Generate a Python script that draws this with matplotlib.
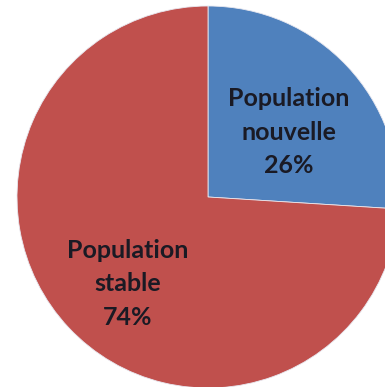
import matplotlib.pyplot as plt
from matplotlib.transforms import offset_copy

# Données
categories = ["Population\nnouvelle", "Population\nstable"]
valeurs = [26, 74]
couleurs = ["#4F81BD", "#C0504D"]

fig = plt.figure(figsize=(3.85, 3.87), dpi=100)
ax = fig.add_axes([0, 0, 1, 1])

def etiquette(pct):
    i = min(range(len(valeurs)), key=lambda k: abs(valeurs[k] - pct))
    return "{}\n{:.0f}%".format(categories[i], pct)

wedges, texts, autotexts = ax.pie(
    valeurs, colors=couleurs, startangle=90, counterclock=False,
    radius=191, center=(208, 190), frame=True,
    autopct=etiquette, pctdistance=0.58,
    wedgeprops=dict(edgecolor="#e8e8f0", linewidth=0.6),
    textprops=dict(fontsize=18, fontweight="bold", family=["Lato", "DejaVu Sans"],
                   color="#1a1a24", linespacing=1.55),
)

# descendre un peu les étiquettes
for t in autotexts:
    t.set_transform(offset_copy(t.get_transform(), fig=fig, y=-11, units="dots"))

ax.set_xlim(0, 385)
ax.set_ylim(0, 387)
ax.set_aspect("equal")
ax.axis("off")

fig.savefig("out.png", dpi=100)
